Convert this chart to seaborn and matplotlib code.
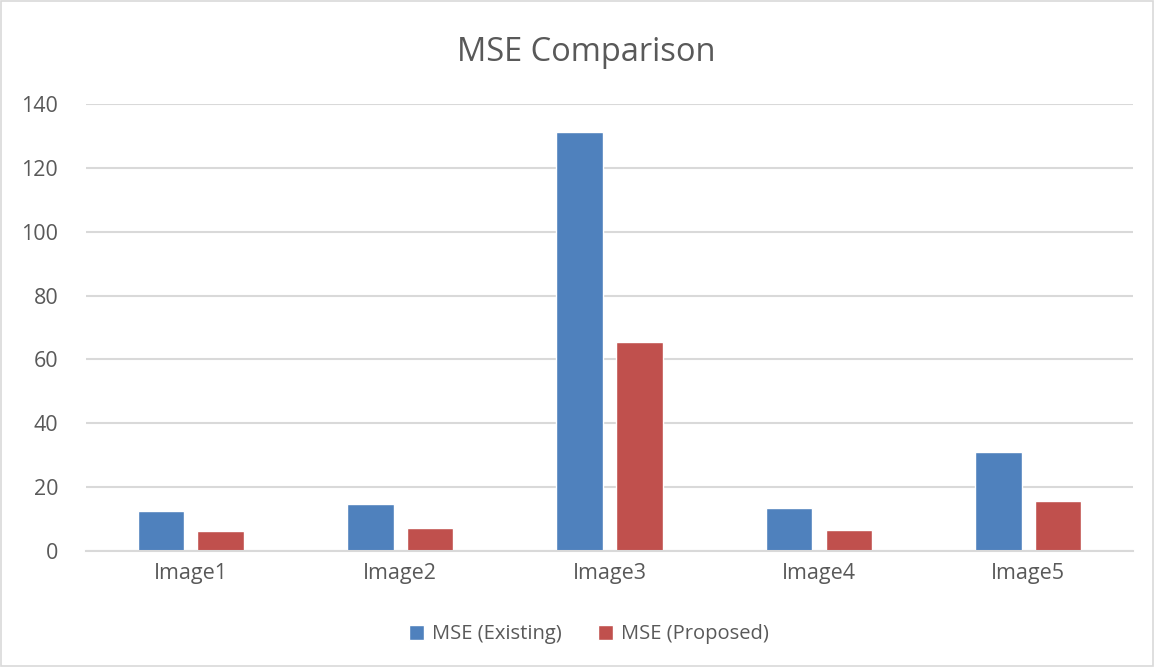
import matplotlib
matplotlib.use("Agg")
import matplotlib.pyplot as plt
import pandas as pd
import seaborn as sns

# Values
images = ["Image1", "Image2", "Image3", "Image4", "Image5"]
mse_existing = [12.4, 14.7, 131.1, 13.3, 30.9]
mse_proposed = [6.2, 7.3, 65.5, 6.7, 15.6]
series = ["MSE (Existing)", "MSE (Proposed)"]
colors = ["#4F81BD", "#C0504D"]

df = pd.DataFrame({
    "Image": images * 2,
    "MSE": mse_existing + mse_proposed,
    "Series": [series[0]] * len(images) + [series[1]] * len(images),
})

sns.set_style("white")
plt.rcParams["font.family"] = ["Open Sans", "DejaVu Sans"]
text_color = "#595959"
grid_color = "#D9D9D9"

fig = plt.figure(figsize=(11.55, 6.67), dpi=100)
ax = fig.add_axes([0.0745, 0.174, 0.9065, 0.67])

sns.barplot(data=df, x="Image", y="MSE", hue="Series", palette=colors,
            width=0.57, gap=0.22, ax=ax, saturation=1, legend=True)

ax.set_ylim(0, 140)
ax.set_xlim(-0.5, len(images) - 0.5)
ax.set_yticks(range(0, 141, 20))
ax.yaxis.grid(True, color=grid_color, linewidth=1.5)
ax.set_axisbelow(True)
for side in ["top", "right", "left"]:
    ax.spines[side].set_visible(False)
ax.spines["bottom"].set_color(grid_color)
ax.spines["bottom"].set_linewidth(1.5)
ax.tick_params(axis="both", length=0, labelsize=15.5, colors=text_color, pad=9)
ax.tick_params(axis="y", pad=20)
ax.set_xlabel("")
ax.set_ylabel("")

fig.text(0.508, 0.921, "MSE Comparison", ha="center", va="center",
         fontsize=23.5, color=text_color)

handles, labels = ax.get_legend_handles_labels()
ax.get_legend().remove()
fig.legend(handles, labels, loc="center", bbox_to_anchor=(0.51, 0.049),
           ncol=2, frameon=False, fontsize=14.5, labelcolor=text_color,
           handlelength=0.75, handleheight=0.75, handletextpad=0.4,
           columnspacing=1.8)

# light border around the chart area
fig.patches.append(plt.Rectangle((0.001, 0.001), 0.997, 0.997, transform=fig.transFigure,
                                 fill=False, edgecolor=grid_color, linewidth=1.2))

fig.savefig("out.png", dpi=100, facecolor="white")
